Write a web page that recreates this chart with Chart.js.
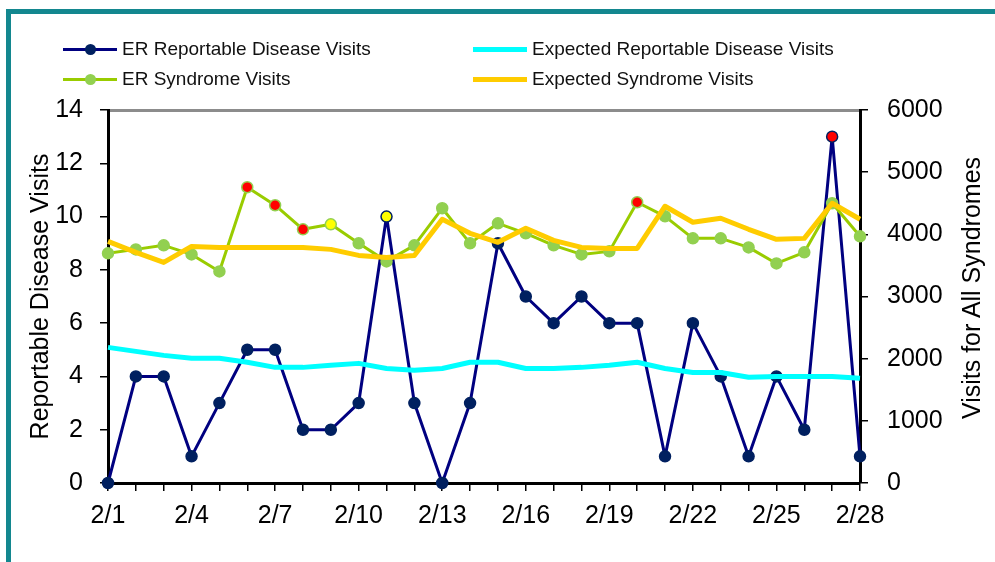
<!DOCTYPE html>
<html>
<head>
<meta charset="utf-8">
<script src="https://cdn.jsdelivr.net/npm/chart.js@4.4.1/dist/chart.umd.min.js"></script>
<style>
  html, body { margin: 0; padding: 0; background: #fff; overflow: hidden; }
  #wrap { position: relative; width: 995px; height: 562px; }
  #chart { position: absolute; left: 0; top: 0; }
  /* teal frame, only left + top edges are visible in the picture */
  #frame {
    position: absolute; left: 6px; top: 9px; width: 1100px; height: 700px;
    border-left: 5px solid #13878f; border-top: 5px solid #13878f;
    box-sizing: border-box; pointer-events: none;
  }
  .lg { position: absolute; height: 20px; font: 19px 'Liberation Sans', Arial, sans-serif; color: #111; white-space: nowrap; }
  .lg .sym { position: absolute; left: 0; width: 54px; }
  .lg .dot { position: absolute; left: 22px; width: 11px; height: 11px; border-radius: 50%; }
  .lg .txt { position: absolute; left: 59px; top: 0; line-height: 20px; }
  /* right axis title reads bottom-to-top like the left one */
  #rtitle {
    position: absolute; left: 971px; top: 288px; white-space: nowrap;
    font: 25px 'Liberation Sans', Arial, sans-serif; color: #000;
    transform: translate(-50%, -50%) rotate(-90deg);
  }
</style>
</head>
<body>
<div id="wrap">
  <canvas id="chart" width="995" height="562"></canvas>
  <div id="frame"></div>
  <div id="legend"></div>
  <div id="rtitle">Visits for All Syndromes</div>
</div>
<script>
// --- data ---
const dateLabels = ['2/1','2/2','2/3','2/4','2/5','2/6','2/7','2/8','2/9','2/10','2/11','2/12','2/13','2/14',
                    '2/15','2/16','2/17','2/18','2/19','2/20','2/21','2/22','2/23','2/24','2/25','2/26','2/27','2/28'];

// left axis
const erReportable = [0, 4, 4, 1, 3, 5, 5, 2, 2, 3, 10, 3, 0, 3, 9, 7, 6, 7, 6, 6, 1, 6, 4, 1, 4, 2, 13, 1];
const expectedReportable = [5.09, 4.94, 4.79, 4.68, 4.68, 4.53, 4.34, 4.34, 4.42, 4.49, 4.30, 4.23, 4.30, 4.53,
                            4.53, 4.30, 4.30, 4.34, 4.42, 4.53, 4.30, 4.15, 4.15, 3.97, 4.0, 4.0, 4.0, 3.93];

// right axis
const erSyndrome = [3694, 3758, 3823, 3677, 3403, 4758, 4468, 4081, 4161, 3855, 3565, 3823, 4419, 3855,
                    4177, 4016, 3823, 3677, 3726, 4516, 4290, 3935, 3935, 3790, 3532, 3710, 4500, 3968];
const expectedSyndrome = [3887, 3710, 3548, 3806, 3790, 3790, 3790, 3790, 3758, 3661, 3629, 3661, 4242, 4016,
                          3871, 4097, 3903, 3790, 3774, 3774, 4452, 4194, 4258, 4081, 3919, 3935, 4500, 4242];

// alert level per day: 0 = none, 1 = warning, 2 = alert
const reportableAlert = [0,0,0,0,0,0,0,0,0,0,1,0,0,0,0,0,0,0,0,0,0,0,0,0,0,0,2,0];
const syndromeAlert   = [0,0,0,0,0,2,2,2,1,0,0,0,0,0,0,0,0,0,0,2,0,0,0,0,0,0,0,0];

const leftTicks = { min: 0, max: 14, step: 2 };
const rightTicks = { min: 0, max: 6000, step: 1000 };

// --- styling ---
const FONT = "'Liberation Sans', Arial, sans-serif";
const COL = {
    navy: '#000080', navyDot: '#002060',
    green: '#99cc00', greenDot: '#92d050',
    cyan: '#00ffff', gold: '#ffcc00',
    warn: '#ffff00', alert: '#ff0000'
};
const repFill = [COL.navyDot, COL.warn, COL.alert];
const synFill = [COL.greenDot, COL.warn, COL.alert];

// html legend (2 x 2 grid like the original)
const LEGEND = [
    { text: 'ER Reportable Disease Visits', color: COL.navy, dot: COL.navyDot, lw: 3, x: 63, y: 39 },
    { text: 'Expected Reportable Disease Visits', color: COL.cyan, lw: 5, x: 473, y: 39 },
    { text: 'ER Syndrome Visits', color: COL.green, dot: COL.greenDot, lw: 3, x: 63, y: 69 },
    { text: 'Expected Syndrome Visits', color: COL.gold, lw: 5, x: 473, y: 69 }
];
const legendEl = document.getElementById('legend');
LEGEND.forEach(item => {
    const d = document.createElement('div');
    d.className = 'lg';
    d.style.left = item.x + 'px';
    d.style.top = item.y + 'px';
    const top = 10 - item.lw / 2;
    d.innerHTML = `<span class="sym" style="top:${top}px;height:${item.lw}px;background:${item.color}">` +
        (item.dot ? `<span class="dot" style="top:${item.lw / 2 - 5.5}px;background:${item.dot}"></span>` : '') +
        `</span><span class="txt">${item.text}</span>`;
    legendEl.appendChild(d);
});

const tickFont = { family: FONT, size: 25 };

new Chart(document.getElementById('chart').getContext('2d'), {
    type: 'line',
    data: {
        labels: dateLabels,
        datasets: [
            {
                label: 'ER Reportable Disease Visits',
                data: erReportable,
                yAxisID: 'y',
                borderColor: COL.navy,
                borderWidth: 3,
                borderJoinStyle: 'round',
                pointRadius: 5.5,
                pointBackgroundColor: reportableAlert.map(a => repFill[a]),
                pointBorderColor: COL.navyDot,
                pointBorderWidth: 1.5,
                clip: false, // markers at 0 sit on top of the axis
                order: 4
            },
            {
                label: 'Expected Reportable Disease Visits',
                data: expectedReportable,
                yAxisID: 'y',
                borderColor: COL.cyan,
                borderWidth: 5,
                borderJoinStyle: 'round',
                pointRadius: 0,
                order: 3
            },
            {
                label: 'ER Syndrome Visits',
                data: erSyndrome,
                yAxisID: 'y1',
                borderColor: COL.green,
                borderWidth: 3,
                borderJoinStyle: 'round',
                pointRadius: 5.5,
                pointBackgroundColor: syndromeAlert.map(a => synFill[a]),
                pointBorderColor: COL.greenDot,
                pointBorderWidth: 1.5,
                clip: false,
                order: 2
            },
            {
                label: 'Expected Syndrome Visits',
                data: expectedSyndrome,
                yAxisID: 'y1',
                borderColor: COL.gold,
                borderWidth: 5,
                borderJoinStyle: 'round',
                pointRadius: 0,
                order: 1
            }
        ]
    },
    options: {
        responsive: false,
        animation: false,
        events: [],
        layout: { padding: 0 },
        elements: { line: { tension: 0 } },
        plugins: { legend: { display: false }, tooltip: { enabled: false } },
        scales: {
            x: {
                type: 'category',
                position: 'bottom',
                offset: false,
                grid: { drawOnChartArea: false, tickLength: 8, color: '#000', lineWidth: 1.5 },
                border: { color: '#000', width: 3 },
                ticks: {
                    autoSkip: false, maxRotation: 0, padding: 10, color: '#000', font: tickFont,
                    callback: (v, i) => (i % 3 === 0 ? dateLabels[i] : '')
                },
                afterFit: s => { s.height = 79; }
            },
            x2: {
                type: 'category',
                position: 'top',
                offset: false,
                grid: { display: false },
                ticks: { display: false },
                border: { color: '#8c8c8c', width: 3 },
                afterFit: s => { s.height = 110; }
            },
            y: {
                position: 'left',
                min: leftTicks.min, max: leftTicks.max,
                ticks: { stepSize: leftTicks.step, padding: 17, color: '#000', font: tickFont },
                grid: { drawOnChartArea: false, tickLength: 8, color: '#000', lineWidth: 1.5 },
                border: { color: '#000', width: 3 },
                title: {
                    display: true, text: 'Reportable Disease Visits', color: '#000',
                    font: { family: FONT, size: 25 }, padding: { top: 26, bottom: 0 }
                },
                afterFit: s => { s.width = 108; }
            },
            y1: {
                position: 'right',
                min: rightTicks.min, max: rightTicks.max,
                ticks: {
                    stepSize: rightTicks.step, padding: 19, color: '#000', font: tickFont,
                    callback: v => String(v)
                },
                grid: { drawOnChartArea: false, tickLength: 8, color: '#000', lineWidth: 1.5 },
                border: { color: '#000', width: 3 },
                afterFit: s => { s.width = 135; }
            }
        }
    }
});
</script>
</body>
</html>
